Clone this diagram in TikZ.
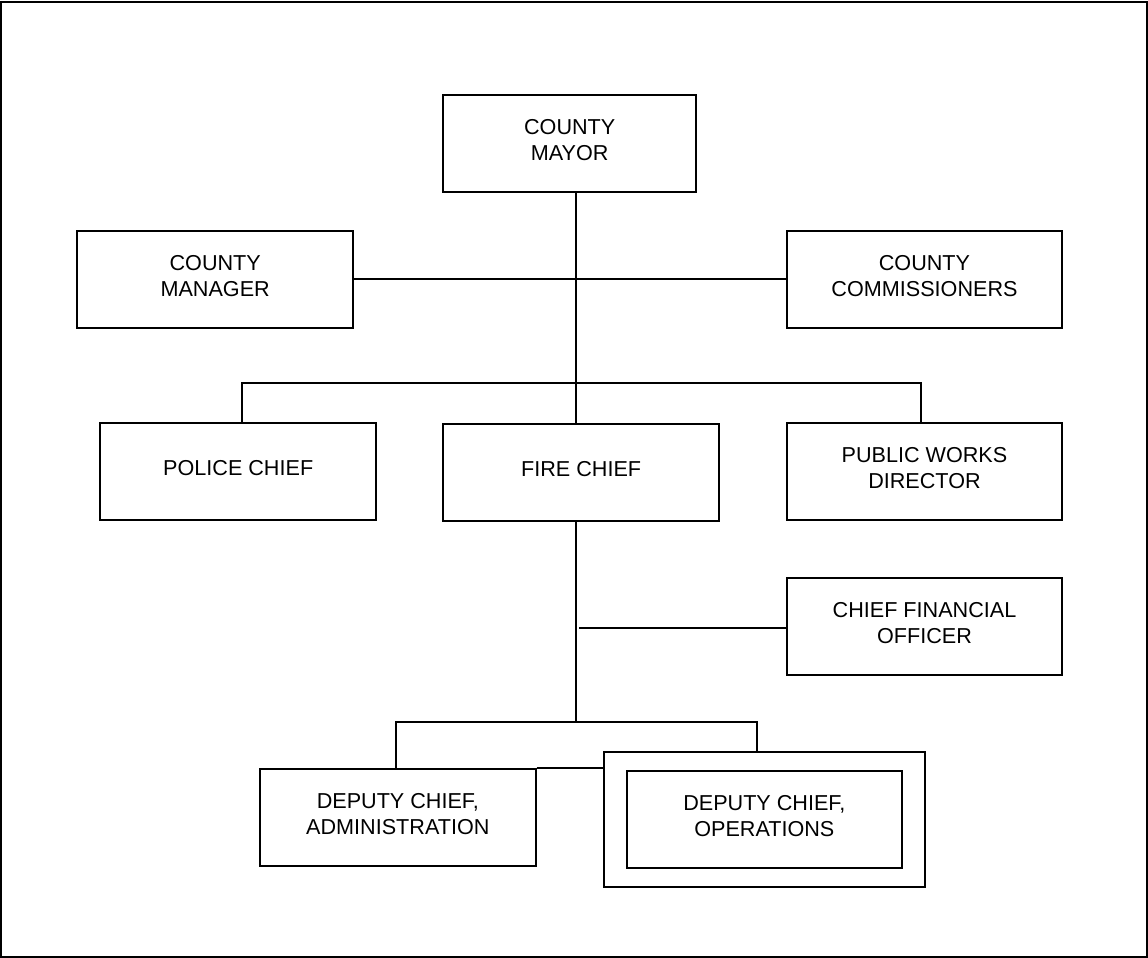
\documentclass[tikz,border=0pt]{standalone}
\usepackage{fontspec}
\setmainfont{Liberation Sans}
\begin{document}
\begin{tikzpicture}[x=0.5pt,y=-0.5pt,
  box/.style={draw, line width=1pt, minimum width=137.8pt, minimum height=48.5pt,
    align=center, inner sep=0pt, text depth=3.5pt, font=\fontsize{10.8}{13}\selectfont},
  conn/.style={line width=1pt}]
\useasboundingbox (0,0) rectangle (1148,958);
\draw[line width=0.7pt] (1,2) rectangle (1147,957);
% boxes
\node[box, minimum width=126.4pt] (mayor) at (569.7,143.8) {COUNTY\\MAYOR};
\node[box] (manager) at (215.2,279.4) {COUNTY\\MANAGER};
\node[box] (comm) at (924.5,279.2) {COUNTY\\COMMISSIONERS};
\node[box] (police) at (238.2,471.7) {POLICE CHIEF};
\node[box] (fire) at (581.2,472) {FIRE CHIEF};
\node[box] (pw) at (924.5,471.9) {PUBLIC WORKS\\DIRECTOR};
\node[box] (cfo) at (924.5,626.5) {CHIEF FINANCIAL\\OFFICER};
\node[box] (admin) at (397.8,817.5) {DEPUTY CHIEF,\\ADMINISTRATION};
\node[box, minimum width=160.7pt, minimum height=67.8pt] (opsouter) at (764.3,819.5) {};
\node[box] (ops) at (764.3,819.2) {DEPUTY CHIEF,\\OPERATIONS};
% helper coordinates
\coordinate (spine) at (576,0);
\coordinate (bus1) at (0,382.5);
\coordinate (bus2) at (0,722);
\coordinate (cfoj) at (578.5,0);
% connectors
\draw[conn] (mayor.south -| spine) -- (fire.north -| spine);
\draw[conn] (manager.east) -- (manager.east -| comm.west);
\draw[conn] (police.north -| 242,0) -- (bus1 -| 242,0) -- (bus1 -| 920.5,0) -- (pw.north -| 920.5,0);
\draw[conn] (fire.south -| spine) -- (bus2 -| spine);
\draw[conn] (cfo.west |- 0,627.7) coordinate (cfoend) -- (cfoend -| cfoj);
\draw[conn] (admin.north -| 395.5,0) -- (bus2 -| 395.5,0) -- (bus2 -| 757,0) -- (opsouter.north -| 757,0);
\draw[conn] (admin.north east) -- (admin.north east -| opsouter.west);
\end{tikzpicture}
\end{document}
